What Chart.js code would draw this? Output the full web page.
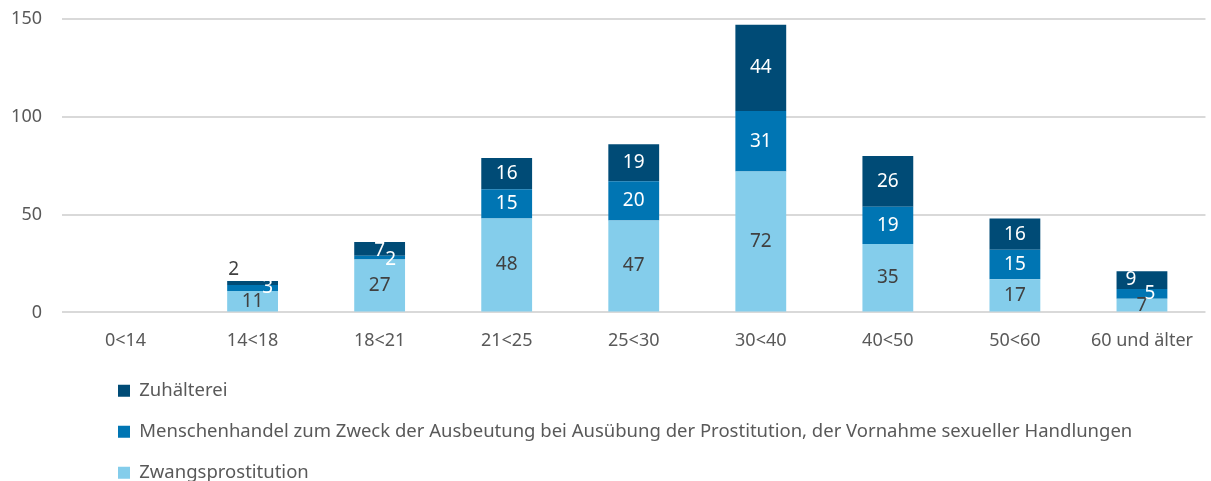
<!DOCTYPE html>
<html>
<head>
<meta charset="utf-8">
<script src="https://cdn.jsdelivr.net/npm/chart.js@4/dist/chart.umd.min.js"></script>
<style>
html, body { margin: 0; padding: 0; background: #fff; }
#wrap { width: 1211px; height: 481px; }
</style>
</head>
<body>
<div id="wrap"><canvas id="chart"></canvas></div>
<script>
// Data
const categories = ['0<14', '14<18', '18<21', '21<25', '25<30', '30<40', '40<50', '50<60', '60 und älter'];
const zwangsprostitution = [0, 11, 27, 48, 47, 72, 35, 17, 7];
const menschenhandel = [0, 3, 2, 15, 20, 31, 19, 15, 5];
const zuhaelterei = [0, 2, 7, 16, 19, 44, 26, 16, 9];
const yTicks = [0, 50, 100, 150];

// Colours
const lightBlue = '#84cdeb';
const midBlue = '#0075b3';
const darkBlue = '#004b76';
const textDark = '#404040';
const textGray = '#595959';
const fontFamily = "'Noto Sans', 'DejaVu Sans', sans-serif";

// Legend block width, narrow enough for one item per row
const legendWidth = 1050;

// Nudges for the small labels that overlap (dataset-index)
const labelNudge = {
    '2-1': { dx: -19, dy: -13, color: textDark },
    '1-1': { dx: 15, dy: 0 },
    '2-2': { dx: 0, dy: 2 },
    '1-2': { dx: 11, dy: 2 },
    '2-8': { dx: -11, dy: -1 },
    '1-8': { dx: 8, dy: 0 },
    '0-8': { dx: 0, dy: 1 }
};

// Draw the value labels in the middle of each segment
const segmentLabels = {
    id: 'segmentLabels',
    afterDatasetsDraw(chart) {
        const ctx = chart.ctx;
        ctx.save();
        ctx.font = '19px ' + fontFamily;
        ctx.textAlign = 'center';
        ctx.textBaseline = 'middle';
        chart.data.datasets.forEach((ds, di) => {
            const meta = chart.getDatasetMeta(di);
            meta.data.forEach((bar, i) => {
                const v = ds.data[i];
                if (!v) return;
                const nudge = labelNudge[di + '-' + i] || { dx: 0, dy: 0 };
                ctx.fillStyle = nudge.color || (di === 0 ? textDark : '#ffffff');
                const cy = (bar.y + bar.base) / 2;
                ctx.fillText(String(v), bar.x + nudge.dx, cy + nudge.dy);
            });
        });
        ctx.restore();
    }
};

// One legend item per row, block moved to the left and a bit lower like in the reference
const legendShift = {
    id: 'legendShift',
    beforeLayout(chart) {
        const lg = chart.legend;
        if (lg && !lg._narrowed) {
            const origUpdate = lg.update.bind(lg);
            lg.update = (mw, mh, margins) => origUpdate(Math.min(mw, legendWidth), mh, margins);
            lg._narrowed = true;
        }
    },
    afterLayout(chart) {
        const lg = chart.legend;
        if (!lg) return;
        const h = lg.bottom - lg.top;
        lg.left = 118 - lg.options.labels.padding;
        lg.right = lg.left + legendWidth;
        lg.top = 359;
        lg.bottom = lg.top + h;
    }
};

const ctx = document.getElementById('chart').getContext('2d');
const myChart = new Chart(ctx, {
    type: 'bar',
    data: {
        labels: categories,
        datasets: [
            { label: 'Zwangsprostitution', data: zwangsprostitution, backgroundColor: lightBlue },
            { label: 'Menschenhandel zum Zweck der Ausbeutung bei Ausübung der Prostitution, der Vornahme sexueller Handlungen', data: menschenhandel, backgroundColor: midBlue },
            { label: 'Zuhälterei', data: zuhaelterei, backgroundColor: darkBlue }
        ]
    },
    options: {
        responsive: true,
        maintainAspectRatio: false,
        animation: false,
        events: [],
        layout: { padding: { top: 19, right: 0, bottom: -22, left: 0 } },
        datasets: {
            bar: { categoryPercentage: 1, barPercentage: 0.4, borderWidth: 0 }
        },
        scales: {
            x: {
                stacked: true,
                grid: { display: false, drawTicks: false },
                border: { display: false },
                ticks: { color: textGray, font: { family: fontFamily, size: 18 }, padding: 18, maxRotation: 0, autoSkip: false }
            },
            y: {
                stacked: true,
                min: 0,
                max: 150,
                afterBuildTicks(scale) {
                    scale.ticks = yTicks.map(v => ({ value: v }));
                },
                afterFit(scale) {
                    scale.width = 62;
                    scale.paddingTop = 0;
                    scale.paddingBottom = 0;
                },
                grid: { color: '#d9d9d9', lineWidth: 2, drawTicks: false },
                border: { display: false },
                ticks: { color: textGray, font: { family: fontFamily, size: 18 }, padding: 20 }
            }
        },
        plugins: {
            tooltip: { enabled: false },
            legend: {
                position: 'bottom',
                align: 'start',
                reverse: true,
                labels: {
                    boxWidth: 12,
                    boxHeight: 12,
                    padding: 22.5,
                    color: textGray,
                    font: { family: fontFamily, size: 18.5 }
                }
            }
        }
    },
    plugins: [segmentLabels, legendShift]
});
</script>
</body>
</html>
